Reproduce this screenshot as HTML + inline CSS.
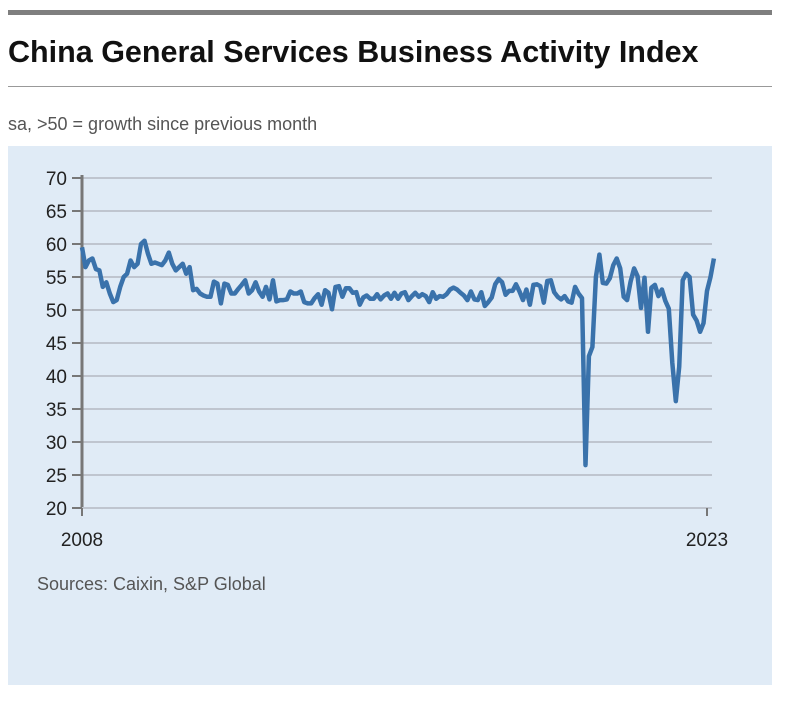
<!DOCTYPE html>
<html><head><meta charset="utf-8"><style>
body{margin:0;background:#fff;font-family:"Liberation Sans",sans-serif;}
</style></head><body>
<svg width="789" height="697" xmlns="http://www.w3.org/2000/svg">
<rect x="8" y="10" width="764" height="5" fill="#7f7f7f"/>
<text x="8" y="62" font-size="30.5" font-weight="bold" fill="#111">China General Services Business Activity Index</text>
<rect x="8" y="86" width="764" height="1" fill="#999"/>
<text x="8" y="130" font-size="18" fill="#555">sa, &gt;50 = growth since previous month</text>
<rect x="8" y="146" width="764" height="539" fill="#e0ebf6"/>
<g id="grid"></g><g id="axes"></g>
<path id="line" fill="none" stroke="#3a72ab" stroke-width="4.5" stroke-linejoin="round"/>
<text x="37" y="590" font-size="18" fill="#555">Sources: Caixin, S&amp;P Global</text>
</svg>
<script>
const yTicks=[20,25,30,35,40,45,50,55,60,65,70];
const xLabels=["2008","2023"];
const startYear=2008;
const values=[
59.5,56.5,57.5,57.8,56.2,56,53.5,54.2,52.5,51.2,51.5,53.5,
55,55.5,57.5,56.5,57,60,60.5,58.5,57,57.2,57,56.8,
57.5,58.7,57,56,56.5,57,55.5,56.5,53,53.2,52.5,52.2,
52,52,54.3,54,51,54,53.8,52.5,52.5,53.2,53.8,54.5,
52.5,53,54.2,52.8,52,53.5,51.6,54.5,51.3,51.5,51.5,51.6,
52.8,52.5,52.5,52.8,51.2,51,51,51.8,52.4,50.8,53,52.6,
50.1,53.5,53.6,52,53.3,53.3,52.6,52.7,50.8,51.9,52.2,51.7,
51.7,52.4,51.6,52.2,52.5,51.7,52.6,51.7,52.5,52.7,51.5,52.1,
52.6,52,52.4,52.1,51.2,52.7,51.7,52.1,52,52.4,53.1,53.4,
53.1,52.6,52.2,51.5,52.8,51.6,51.5,52.7,50.6,51.2,51.9,53.9,
54.7,54.2,52.3,52.9,52.9,53.9,52.8,51.5,53.1,50.8,53.8,53.9,
53.6,51.1,54.4,54.5,52.7,52,51.6,52.1,51.3,51.1,53.5,52.5,
51.8,26.5,43,44.4,55,58.4,54.1,54,54.8,56.8,57.8,56.3,
52,51.5,54.3,56.3,55.1,50.3,54.9,46.7,53.4,53.8,52.1,53.1,
51.4,50.2,42,36.2,41.4,54.5,55.5,55,49.3,48.4,46.7,48,
52.9,55,57.8];
const NS="http://www.w3.org/2000/svg";
const X0=82,X1=707,Y0=508,Y1=178;
const xs=m=>X0+(X1-X0)*m/180;
const ys=v=>Y0-(v-20)*(Y0-Y1)/50;
const grid=document.getElementById('grid'),axes=document.getElementById('axes');
yTicks.forEach(t=>{
 if(t>20){const l=document.createElementNS(NS,'line');
 l.setAttribute('x1',X0);l.setAttribute('x2',712);l.setAttribute('y1',ys(t));l.setAttribute('y2',ys(t));
 l.setAttribute('stroke','#bfc5cf');l.setAttribute('stroke-width','2');
 
 
 grid.appendChild(l);}
 const k=document.createElementNS(NS,'line');
 k.setAttribute('x1',72);k.setAttribute('x2',X0);k.setAttribute('y1',ys(t));k.setAttribute('y2',ys(t));
 k.setAttribute('stroke','#777');k.setAttribute('stroke-width','2');
 
 
 axes.appendChild(k);
 const tx=document.createElementNS(NS,'text');
 tx.setAttribute('x',67);tx.setAttribute('y',ys(t)+7);tx.setAttribute('text-anchor','end');
 tx.setAttribute('font-size','19');tx.setAttribute('fill','#222');tx.textContent=t;
 
 
 axes.appendChild(tx);
});
const ax=document.createElementNS(NS,'line');
ax.setAttribute('x1',X0);ax.setAttribute('x2',X0);ax.setAttribute('y1',Y1-3);ax.setAttribute('y2',Y0);
ax.setAttribute('stroke','#777');ax.setAttribute('stroke-width','3');


axes.appendChild(ax);
const bx=document.createElementNS(NS,'line');
bx.setAttribute('x1',X0);bx.setAttribute('x2',712);bx.setAttribute('y1',Y0);bx.setAttribute('y2',Y0);
bx.setAttribute('stroke','#bfc5cf');bx.setAttribute('stroke-width','2');


axes.appendChild(bx);
xLabels.forEach(s=>{
 const m=(parseInt(s)-startYear)*12;
 const k=document.createElementNS(NS,'line');
 k.setAttribute('x1',xs(m));k.setAttribute('x2',xs(m));k.setAttribute('y1',Y0);k.setAttribute('y2',Y0+8);
 k.setAttribute('stroke','#777');k.setAttribute('stroke-width','2');
 
 
 axes.appendChild(k);
 const tx=document.createElementNS(NS,'text');
 tx.setAttribute('x',xs(m));tx.setAttribute('y',546);tx.setAttribute('text-anchor','middle');
 tx.setAttribute('font-size','19');tx.setAttribute('fill','#222');tx.textContent=s;
 
 
 axes.appendChild(tx);
});
document.getElementById('line').setAttribute('d',values.map((v,i)=>(i?'L':'M')+xs(i).toFixed(1)+' '+ys(v).toFixed(1)).join(' '));
</script>
</body></html>
